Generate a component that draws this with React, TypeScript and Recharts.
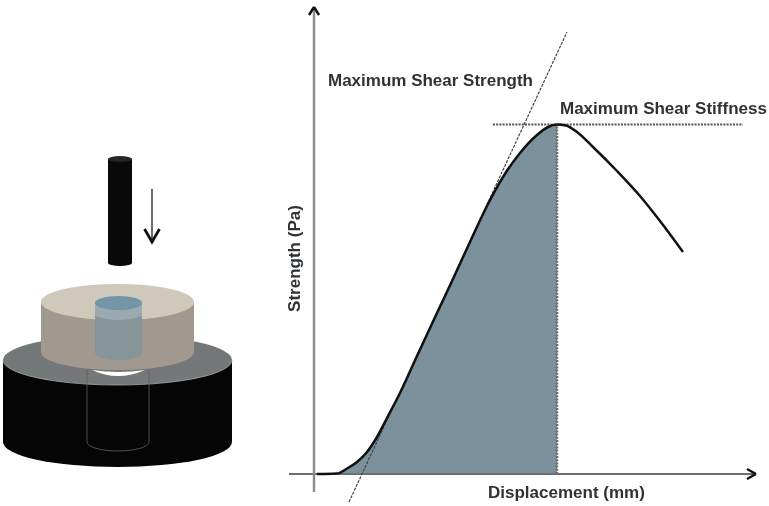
// App.tsx
import {
  ComposedChart,
  Area,
  Line,
  XAxis,
  YAxis,
  ReferenceLine,
} from "recharts";

const displacement = [
  0.03, 0.23, 0.33, 0.43, 0.53, 0.63, 0.73, 0.86, 1.03, 1.23, 1.39, 1.56, 1.73,
  1.89, 2.06, 2.23, 2.34, 2.43, 2.52, 2.63, 2.79, 3.03, 3.26, 3.46, 3.69,
];
const strength = [
  0, 0.005, 0.055, 0.12, 0.22, 0.37, 0.56, 0.81, 1.18, 1.61, 1.95, 2.32, 2.68,
  2.97, 3.21, 3.39, 3.47, 3.495, 3.485, 3.42, 3.27, 3.03, 2.78, 2.53, 2.22,
];
const peakIndex = 17;
const peakX = 2.43;
const peakY = 3.495;
const tangentStart = { x: 0.35, y: -0.28 };
const tangentEnd = { x: 2.53, y: 4.42 };

const data = displacement.map((x, i) => ({
  x,
  strength: strength[i],
  energy: i <= peakIndex ? strength[i] : null,
}));

const INK = "#2f3336";
const axisFont = "'Liberation Sans', Arial, sans-serif";

function Specimen() {
  return (
    <svg
      width={260}
      height={506}
      style={{ position: "absolute", left: 0, top: 0, filter: "blur(0.6px)" }}
    >
      {/* base */}
      <path d="M3 360 V442 A114.5 25 0 0 0 232 442 V360 Z" fill="#050505" />
      <ellipse cx={117.5} cy={360} rx={114.5} ry={25} fill="#757878" />
      <path d="M3 360 A114.5 25 0 0 0 232 360" fill="none" stroke="#a5a8a8" strokeWidth={0.8} />
      {/* hole */}
      <path d="M92 370 Q118 382 145 370 Q118 374 92 370 Z" fill="#fff" />
      <path
        d="M87 370 V442 A31 9 0 0 0 149 442 V370"
        fill="none"
        stroke="#5c5f60"
        strokeWidth={0.8}
      />
      {/* tan disc */}
      <path d="M41 302 V352 A76.5 18 0 0 0 194 352 V302 Z" fill="#a1998f" />
      <ellipse cx={117.5} cy={302} rx={76.5} ry={18} fill="#cfc9bb" />
      {/* blue core */}
      <path d="M95 302 V353 A23.5 7 0 0 0 142 353 V302 Z" fill="#87949a" />
      <path d="M95 303 V316 Q118 324 142 316 V303 Z" fill="#9aaab0" />
      <ellipse cx={118.5} cy={303} rx={23.5} ry={7} fill="#7494a7" />
      {/* rod */}
      <path d="M108 159 V263 A12 3 0 0 0 132 263 V159 Z" fill="#0a0a0a" />
      <ellipse cx={120} cy={159} rx={12} ry={3} fill="#262626" />
      {/* arrow */}
      <line x1={152} y1={189} x2={152} y2={241} stroke="#444" strokeWidth={1.6} />
      <path d="M144.5 229 L152 242 L159.5 229" fill="none" stroke="#111" strokeWidth={2.8} />
    </svg>
  );
}

export default function App() {
  return (
    <div style={{ position: "absolute", left: 0, top: 0, width: 769, height: 506, background: "#fff" }}>
      <Specimen />
      <div style={{ position: "absolute", left: 0, top: 0, filter: "blur(0.5px)" }}>
        <ComposedChart
          width={769}
          height={506}
          data={data}
          margin={{ top: 0, right: 0, bottom: 0, left: 0 }}
        >
          <XAxis type="number" dataKey="x" domain={[-3.14, 4.55]} hide allowDataOverflow />
          <YAxis type="number" domain={[-0.32, 4.74]} hide allowDataOverflow />
          <Area
            type="monotone"
            dataKey="energy"
            baseValue={0}
            stroke="none"
            fill="#7b929d"
            fillOpacity={1}
            isAnimationActive={false}
            dot={false}
            activeDot={false}
          />
          {/* axes */}
          <ReferenceLine
            segment={[{ x: -0.25, y: 0 }, { x: 4.41, y: 0 }]}
            stroke="#6e6e6e"
            strokeWidth={2}
          />
          <ReferenceLine
            segment={[{ x: 0, y: -0.18 }, { x: 0, y: 4.66 }]}
            stroke="#8c8c8c"
            strokeWidth={2.4}
          />
          <ReferenceLine segment={[{ x: 4.33, y: 0.05 }, { x: 4.42, y: 0 }]} stroke="#111" strokeWidth={2.4} />
          <ReferenceLine segment={[{ x: 4.33, y: -0.05 }, { x: 4.42, y: 0 }]} stroke="#111" strokeWidth={2.4} />
          <ReferenceLine segment={[{ x: -0.05, y: 4.59 }, { x: 0, y: 4.67 }]} stroke="#111" strokeWidth={2.4} />
          <ReferenceLine segment={[{ x: 0.05, y: 4.59 }, { x: 0, y: 4.67 }]} stroke="#111" strokeWidth={2.4} />
          {/* guides */}
          <ReferenceLine
            segment={[{ x: 1.79, y: peakY }, { x: 4.29, y: peakY }]}
            stroke="#555"
            strokeWidth={1.8}
            strokeDasharray="2 1.2"
          />
          <ReferenceLine
            segment={[tangentStart, tangentEnd]}
            stroke="#444"
            strokeWidth={1.2}
            strokeDasharray="3 1.2"
          />
          <ReferenceLine
            segment={[{ x: peakX, y: 0 }, { x: peakX, y: peakY }]}
            stroke="#6a6a6a"
            strokeWidth={2.4}
            strokeDasharray="2 1.2"
          />
          <Line
            type="monotone"
            dataKey="strength"
            stroke="#111"
            strokeWidth={2.5}
            dot={false}
            activeDot={false}
            isAnimationActive={false}
          />
          <g fontFamily={axisFont} fontWeight="bold" fill={INK}>
            <text x={328} y={85.5} fontSize={17}>Maximum Shear Strength</text>
            <text x={560} y={113.5} fontSize={17}>Maximum Shear Stiffness</text>
            <text x={488} y={497.5} fontSize={17}>Displacement (mm)</text>
            <text
              x={299.5}
              y={258.5}
              fontSize={17}
              textAnchor="middle"
              transform="rotate(-90 299.5 258.5)"
            >
              Strength (Pa)
            </text>
            <text x={417} y={420.5} fontSize={14.5} fill="#384249">Total Energy</text>
            <text x={417} y={439} fontSize={14.5} fill="#384249">Absorption</text>
          </g>
        </ComposedChart>
      </div>
    </div>
  );
}
